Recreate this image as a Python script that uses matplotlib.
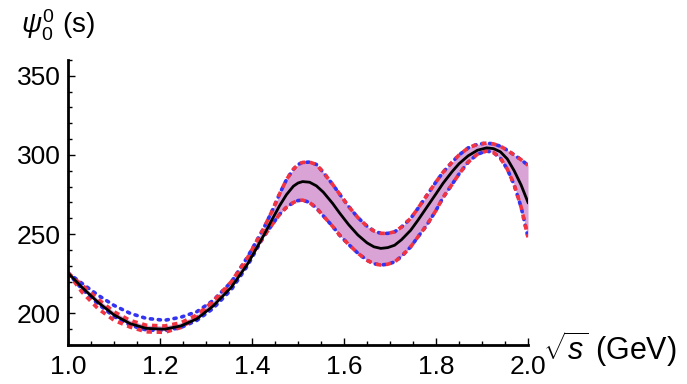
import numpy as np
import matplotlib
matplotlib.use("Agg")
import matplotlib.pyplot as plt
from matplotlib.ticker import MultipleLocator

plt.rcParams['font.family'] = ['Liberation Sans', 'DejaVu Sans']
plt.rcParams['mathtext.fontset'] = 'custom'
plt.rcParams['mathtext.rm'] = 'Liberation Sans'
plt.rcParams['mathtext.it'] = 'Liberation Sans:italic'

# ----------------- DATA -----------------

sqrt_s = [1.00, 1.03, 1.065, 1.10, 1.135, 1.17, 1.21, 1.245, 1.28, 1.315, 1.355, 1.39,
          1.425, 1.445, 1.46, 1.475, 1.49, 1.50, 1.51, 1.525, 1.54, 1.555, 1.575, 1.59,
          1.61, 1.63, 1.65, 1.665, 1.68, 1.695, 1.71, 1.725, 1.745, 1.76, 1.78, 1.80,
          1.815, 1.835, 1.85, 1.87, 1.89, 1.91, 1.925, 1.94, 1.955, 1.97, 1.985, 2.00]

# central phase
central = [225.5, 216.5, 207.0, 199.0, 193.5, 190.5, 190.0, 192.0, 196.5, 204.5, 216.5, 231.0,
           249.0, 260.0, 268.0, 275.0, 280.3, 282.3, 283.2, 282.8, 280.5, 276.5, 269.5, 263.5,
           256.0, 249.5, 244.5, 242.0, 241.0, 241.5, 243.0, 246.5, 252.5, 258.5, 267.0, 275.5,
           282.0, 289.5, 294.5, 299.5, 303.0, 304.5, 304.0, 302.0, 297.5, 290.0, 281.0, 270.0]

# upper edge of the band (blue dotted, red dashed joins it above 1.4)
band_hi = [225.5, 219.0, 211.5, 205.0, 200.0, 196.8, 195.6, 197.5, 201.0, 208.0, 219.8, 235.5,
           253.5, 265.5, 275.5, 284.5, 291.0, 294.0, 295.3, 295.5, 294.0, 289.0, 281.5, 275.5,
           267.5, 260.5, 255.0, 252.0, 250.5, 250.5, 251.5, 254.5, 260.0, 266.0, 274.5, 283.0,
           289.0, 295.5, 300.0, 304.5, 306.8, 307.5, 307.0, 305.5, 303.0, 300.0, 297.0, 293.5]

# lower edge of the band (red dashed, blue dotted joins it above 1.4)
band_lo = [225.5, 213.5, 203.0, 195.6, 191.3, 188.3, 188.0, 191.0, 197.5, 206.0, 218.8, 232.5,
           248.3, 256.5, 262.5, 267.0, 270.0, 271.2, 271.5, 270.0, 266.5, 261.5, 255.0, 249.5,
           243.5, 238.0, 233.5, 231.3, 230.5, 231.0, 232.5, 236.0, 242.0, 248.0, 255.7, 265.0,
           273.0, 281.5, 288.0, 295.5, 300.5, 302.5, 301.5, 298.0, 291.0, 281.0, 267.0, 248.0]

# where the two bands split (1.0 - 1.39), the inner edges hug the central line
red_hi_left = [225.5, 218.0, 209.0, 201.0, 195.5, 192.5, 192.0, 194.0, 199.0, 207.5, 220.0, 235.0]
blue_lo_left = [225.5, 215.5, 206.0, 198.0, 192.5, 189.5, 189.0, 191.0, 195.5, 203.0, 215.0, 230.0]

n_left = len(red_hi_left)
blue_hi = band_hi
blue_lo = blue_lo_left + band_lo[n_left:]
red_hi = red_hi_left + band_hi[n_left:]
red_lo = band_lo

# ----------------- PLOT -----------------

fig = plt.figure(figsize=(6.87, 3.84), dpi=100)
ax = fig.add_axes([0.099, 0.1016, 0.6696, 0.7422])

fill_lo = np.maximum(blue_lo, red_lo)
fill_hi = np.minimum(blue_hi, red_hi)
ax.fill_between(sqrt_s, fill_lo, fill_hi, color=(0.85, 0.64, 0.84), lw=0)

blue = (0.2, 0.2, 0.95)
red = (0.95, 0.2, 0.25)
for edge in (blue_hi, blue_lo):
    ax.plot(sqrt_s, edge, color=blue, lw=2.6, linestyle=(0, (0.6, 1.6)),
            dash_capstyle='round')
for edge in (red_hi, red_lo):
    ax.plot(sqrt_s, edge, color=red, lw=2.6, linestyle=(0, (1.5, 1.3)),
            dash_capstyle='butt')
ax.plot(sqrt_s, central, color="black", lw=2.0)

ax.set_xlim(1.0, 2.0)
ax.set_ylim(180, 360)
ax.xaxis.set_minor_locator(MultipleLocator(0.05))
ax.yaxis.set_major_locator(MultipleLocator(50))
ax.yaxis.set_minor_locator(MultipleLocator(10))
ax.set_xticks([1.0, 1.2, 1.4, 1.6, 1.8, 2.0])
ax.set_xticklabels(["1.0", "1.2", "1.4", "1.6", "1.8", "2.0"])

for side in ("top", "right"):
    ax.spines[side].set_visible(False)
for side in ("left", "bottom"):
    ax.spines[side].set_linewidth(2.0)

ax.tick_params(which="both", direction="in", width=1.0, labelsize=19)
ax.tick_params(axis="x", pad=7)
ax.tick_params(axis="y", pad=5)
ax.tick_params(which="major", length=5)
ax.tick_params(which="minor", length=3)

fig.text(0.03, 0.935, r"$\psi_0^0$ (s)", fontsize=20, va="center")
fig.text(0.79, 0.092, r"$\sqrt{s}$ (GeV)", fontsize=22, va="center")

fig.savefig("out.png", dpi=100)
